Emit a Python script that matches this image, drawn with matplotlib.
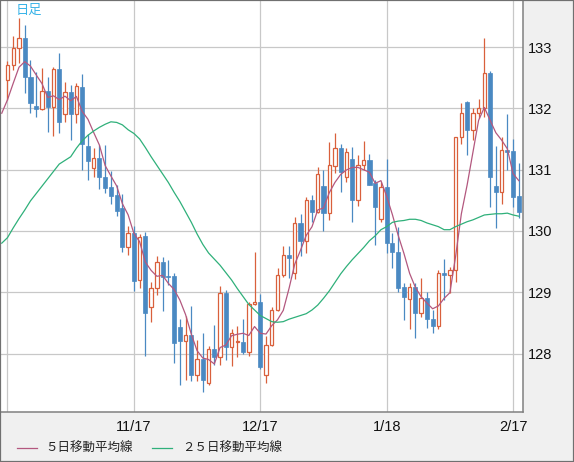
import numpy as np
import matplotlib
matplotlib.use('Agg')
import matplotlib.pyplot as plt
from matplotlib.patches import Rectangle
from matplotlib.lines import Line2D

# ---- data ----
opens = [132.46, 132.71, 132.98, 133.15, 132.51, 132.04, 131.99, 132.28, 132.02, 132.64,
         131.91, 132.27, 131.91, 132.35, 131.39, 131.02, 131.19, 130.88, 130.72, 130.59,
         130.37, 129.74, 129.97, 129.20, 129.92, 128.76, 129.07, 129.49, 129.27, 129.26,
         128.43, 128.20, 128.30, 127.65, 127.91, 127.52, 128.07, 127.95, 128.99, 128.11,
         128.18, 128.19, 128.02, 128.81, 128.84, 127.65, 128.14, 128.71, 129.28, 129.61,
         129.31, 130.13, 129.84, 130.50, 130.31, 130.73, 130.29, 131.06, 131.35, 130.88,
         131.17, 130.50, 131.08, 131.16, 130.78, 130.19, 130.72, 129.80, 129.66, 129.08,
         128.89, 129.08, 128.66, 128.90, 128.56, 128.45, 129.31, 129.28, 129.36, 131.53,
         132.10, 131.65, 131.93, 132.00, 132.58, 130.73, 130.63, 131.32, 131.30, 130.57]
highs = [132.77, 133.18, 133.47, 133.36, 132.79, 132.60, 132.65, 132.51, 132.67, 132.90,
         132.43, 132.38, 132.41, 132.56, 131.58, 131.35, 131.40, 131.40, 130.98, 130.75,
         130.60, 130.08, 130.08, 129.95, 129.98, 129.17, 129.59, 129.58, 129.53, 129.31,
         128.56, 128.61, 128.77, 128.22, 128.33, 128.12, 128.46, 129.10, 129.04, 128.40,
         128.45, 128.56, 128.84, 129.65, 128.97, 128.29, 128.76, 129.40, 129.75, 129.75,
         130.23, 130.28, 130.55, 130.59, 131.04, 130.99, 131.45, 131.60, 131.42, 131.35,
         131.37, 131.24, 131.47, 131.25, 130.83, 130.80, 131.17, 129.97, 130.06, 129.15,
         129.15, 129.15, 129.23, 129.00, 128.71, 129.36, 129.54, 129.41, 131.53, 132.09,
         132.12, 132.00, 132.15, 133.15, 132.61, 131.39, 131.53, 131.91, 131.50, 131.10]
lows = [132.14, 132.62, 132.74, 132.25, 131.92, 131.86, 131.97, 131.61, 131.55, 131.60,
        131.78, 131.48, 131.76, 131.00, 130.83, 130.88, 130.68, 130.62, 130.44, 130.24,
        129.66, 129.61, 129.02, 129.07, 127.96, 128.51, 128.95, 128.69, 129.12, 127.84,
        127.49, 127.57, 127.55, 127.55, 127.37, 127.49, 127.81, 127.81, 127.89, 127.80,
        127.94, 127.99, 127.96, 128.79, 127.74, 127.52, 128.12, 128.70, 129.25, 129.23,
        129.21, 129.59, 129.64, 130.15, 130.29, 130.00, 130.18, 130.94, 130.64, 130.80,
        130.15, 130.41, 131.00, 130.75, 129.77, 130.15, 129.64, 129.39, 129.00, 128.55,
        128.40, 128.25, 128.60, 128.42, 128.33, 128.40, 128.87, 128.99, 129.17, 131.42,
        131.24, 131.48, 131.84, 131.86, 130.39, 130.05, 130.44, 131.00, 130.39, 130.21]
closes = [132.71, 132.98, 133.15, 132.51, 132.09, 131.99, 132.28, 132.02, 132.64, 131.78,
          132.27, 131.91, 132.37, 131.42, 131.14, 131.19, 130.88, 130.70, 130.57, 130.33,
          129.74, 129.97, 129.18, 129.90, 128.66, 129.07, 129.49, 129.25, 129.25, 128.17,
          128.20, 128.30, 127.65, 127.91, 127.57, 128.08, 127.94, 128.99, 128.11, 128.33,
          128.20, 128.02, 128.81, 128.84, 127.78, 128.14, 128.71, 129.28, 129.61, 129.56,
          130.13, 129.84, 130.50, 130.31, 130.93, 130.29, 131.08, 131.35, 130.96, 131.29,
          130.50, 131.08, 131.16, 130.75, 130.39, 130.72, 129.80, 129.66, 129.07, 128.92,
          129.08, 128.66, 128.90, 128.56, 128.45, 129.31, 129.28, 129.36, 131.53, 131.92,
          131.65, 131.92, 132.00, 132.58, 130.88, 130.63, 131.32, 131.29, 130.55, 130.31]
prior_closes = [131.61, 131.63, 131.85, 132.05, 132.46]   # the 5 sessions before the window
ma25 = [129.80, 129.89, 130.05, 130.20, 130.34, 130.49, 130.61, 130.73, 130.85, 130.97,
        131.09, 131.15, 131.21, 131.35, 131.47, 131.56, 131.63, 131.69, 131.74, 131.78,
        131.77, 131.73, 131.65, 131.59, 131.50, 131.36, 131.21, 131.07, 130.93, 130.79,
        130.63, 130.48, 130.31, 130.14, 129.95, 129.78, 129.64, 129.54, 129.44, 129.32,
        129.20, 129.06, 128.93, 128.80, 128.71, 128.62, 128.57, 128.52, 128.51, 128.52,
        128.56, 128.59, 128.62, 128.65, 128.71, 128.79, 128.90, 129.02, 129.16, 129.30,
        129.42, 129.53, 129.63, 129.73, 129.84, 129.92, 130.02, 130.07, 130.14, 130.16,
        130.17, 130.19, 130.19, 130.17, 130.13, 130.10, 130.07, 130.02, 130.02, 130.07,
        130.11, 130.15, 130.18, 130.22, 130.26, 130.27, 130.28, 130.28, 130.29, 130.26,
        130.24]   # index -1 .. 89
date_ticks = [22, 44, 66, 88]
date_labels = ['11/17', '12/17', '1/18', '2/17']
grid_x = [0, 22, 44, 66, 88]
price_ticks = [128, 129, 130, 131, 132, 133]
legend_labels = ['５日移動平均線', '２５日移動平均線']

# ---- styles ----
RED = '#d9603c'
BLUE = '#4a89c2'
PINK = '#b3587f'
GREEN = '#2fb07a'
GRID = '#c8c8c8'

W, H = 574, 462
fig = plt.figure(figsize=(W / 100, H / 100), dpi=100, facecolor='#f0f0f0')
ax = fig.add_axes([0, (H - 412) / H, 523.3 / W, 412 / H])
ax.set_facecolor('white')
ax.set_xlim(-1.305, 89.78)
ax.set_ylim(127.046, 133.767)

o = np.array(opens); h = np.array(highs); l = np.array(lows); c = np.array(closes)
x = np.arange(len(c))
up = c >= o

# grid
for gx in grid_x:
    ax.axvline(gx, color=GRID, lw=0.9, zorder=1)
for py in price_ticks:
    ax.axhline(py, color=GRID, lw=0.9, zorder=1)

# wicks
wcol = np.where(up, RED, BLUE)
ax.vlines(x, l, h, colors=wcol, lw=0.9, zorder=3)
# bodies
bot = np.minimum(o, c)
hgt = np.maximum(np.abs(c - o), 0.015)
ax.bar(x[up], hgt[up], bottom=bot[up], width=0.6, facecolor='white',
       edgecolor=RED, lw=0.9, zorder=4)
ax.bar(x[~up], hgt[~up], bottom=bot[~up], width=0.72, facecolor=BLUE,
       edgecolor=BLUE, lw=0.5, zorder=4)

# moving averages
allc = np.concatenate([prior_closes, c])
ma5 = np.convolve(allc, np.ones(5) / 5, mode='valid')   # index -1 .. 89
xm = np.arange(-1, len(c))
ax.plot(xm, ma5, color=PINK, lw=0.9, zorder=5)
ax.plot(xm, ma25, color=GREEN, lw=0.9, zorder=5)

# axes styling
ax.yaxis.tick_right()
ax.set_yticks(price_ticks)
ax.set_yticklabels([str(p) for p in price_ticks], fontfamily='Liberation Sans', fontsize=10.5, color='#111111')
ax.set_xticks(date_ticks)
ax.set_xticklabels(date_labels, fontfamily='Liberation Sans', fontsize=10.5, color='#111111')
ax.tick_params(axis='both', length=0)
ax.tick_params(axis='y', pad=3.5)
ax.tick_params(axis='x', pad=6)
for s in ['left', 'top']:
    ax.spines[s].set_visible(False)
for s in ['right', 'bottom']:
    ax.spines[s].set_color('#808080')
    ax.spines[s].set_linewidth(1.1)

# label in top-left
fig.text(15.5 / W, 1 - 10.5 / H, '日足', color='#3ab4e8', fontsize=9.5,
         family=['Noto Sans CJK JP', 'DejaVu Sans'], ha='left', va='center')

# legend (manual)
ly = 1 - 448 / H
for (x0, x1, tx), col, lab in zip([(16.5, 36.6, 45.7), (151.8, 172.0, 181.8)], [PINK, GREEN], legend_labels):
    fig.add_artist(Line2D([x0 / W, x1 / W], [ly, ly], color=col, lw=0.9))
    fig.text(tx / W, ly, lab, fontsize=9, color='#222222',
             family=['Noto Sans CJK JP', 'DejaVu Sans'], ha='left', va='center')

# outer border
fig.add_artist(Rectangle((0, 0), 1, 1, transform=fig.transFigure, fill=False,
                         edgecolor='#707070', lw=1.6, zorder=10))

fig.savefig('out.png', dpi=100, facecolor=fig.get_facecolor())
